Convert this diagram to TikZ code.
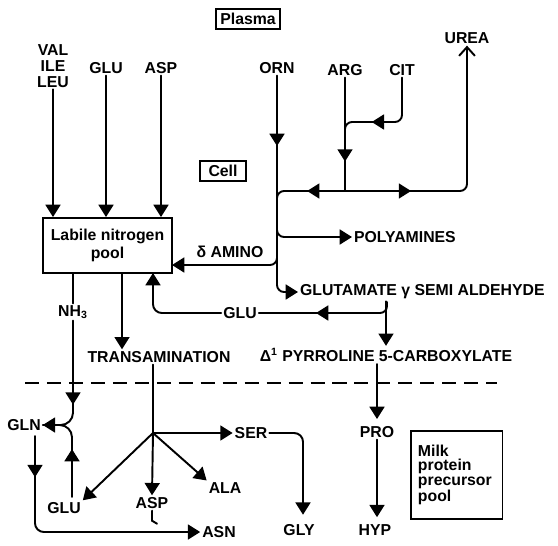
\documentclass[tikz,border=0pt]{standalone}
\usepackage{fontspec}
\setmainfont{Liberation Sans}
\usetikzlibrary{arrows.meta, decorations.markings}

\tikzset{
  tri/.tip={Triangle[length=7pt,width=8.5pt]},
  barb/.tip={Straight Barb[length=5pt,width=9pt,line width=1.1pt]},
  lbl/.style={font=\bfseries\fontsize{9}{9}\selectfont, inner sep=1pt},
  boxed/.style={lbl, draw, line width=1.1pt, inner sep=2.5pt},
  flow/.style={line width=1.1pt, line cap=round},
  midarr/.style={postaction={decorate},
    decoration={markings, mark=at position #1 with {\arrow{tri}}}},
}

\begin{document}
\begin{tikzpicture}[x=0.02cm, y=-0.02cm]
\useasboundingbox (0,0) rectangle (558,545);

% compartments
\node[boxed] (plasma) at (248,19) {Plasma};
\node[boxed, inner xsep=5pt] (cell) at (223,171) {Cell};
\draw[flow, dash pattern=on 8pt off 4.5pt, line cap=butt] (25,383) -- (497,383);

% plasma amino acids
\node[lbl, align=center, font=\bfseries\fontsize{9}{9}\selectfont] (val) at (53,66) {VAL\\ILE\\LEU};
\node[lbl] (glu1) at (106,68) {GLU};
\node[lbl] (asp1) at (161,68) {ASP};
\node[lbl] (orn) at (277,68) {ORN};
\node[lbl] (arg) at (345,70) {ARG};
\node[lbl] (cit) at (402,70) {CIT};
\node[lbl] (urea) at (467,38) {UREA};

% cell
\node[boxed, minimum width=2.58cm, minimum height=1.1cm, align=center]
  (pool) at (107.5,245.5) {Labile nitrogen\\[1pt]pool};
\node[lbl] (amino) at (230,252) {δ AMINO};
\node[lbl, anchor=west] (polyam) at (352,237) {POLYAMINES};
\node[lbl, anchor=west] (glutam) at (298,292) {GLUTAMATE γ SEMI ALDEHYDE};
\node[lbl] (gluM) at (240,313) {GLU};
\node[lbl] (nh3) at (73,312) {NH\textsubscript{3}};
\node[lbl] (transam) at (159,357) {TRANSAMINATION};
\node[lbl] (pyrrol) at (386,355) {Δ\textsuperscript{1} PYRROLINE 5-CARBOXYLATE};

% milk protein precursors
\node[lbl] (gln) at (24,425) {GLN};
\node[lbl] (gluL) at (64,508) {GLU};
\node[lbl] (aspL) at (152,503) {ASP};
\node[lbl] (ala) at (225,488) {ALA};
\node[lbl] (ser) at (251,433) {SER};
\node[lbl] (asn) at (219,532) {ASN};
\node[lbl] (gly) at (299,530) {GLY};
\node[lbl] (pro) at (377,432) {PRO};
\node[lbl] (hyp) at (375,530) {HYP};
\node[lbl, draw, line width=1.1pt, anchor=north west, align=left,
  font=\bfseries\fontsize{9}{8.3}\selectfont, text width=1.55cm, minimum height=1.76cm,
  inner xsep=4pt, inner ysep=5pt] (milk) at (410,430) {Milk\\protein\\precursor\\pool};

% junctions
\coordinate (jarg) at (345,191);
\coordinate (jtr) at (153,433);
\coordinate (ingluP) at (153,273);
\coordinate (inamino) at (172,265);
\coordinate (intr) at (122,273);
\coordinate (ingly) at (303,520);

% into the labile pool
\draw[flow, -tri] (val.south) -- (val.south |- pool.north);
\draw[flow, -tri] (glu1.south) -- (glu1.south |- pool.north);
\draw[flow, -tri] (asp1.south) -- (asp1.south |- pool.north);

% ornithine / arginine / citrulline
\draw[flow, rounded corners=4pt, midarr=0.3, -tri] (orn.south) |- (glutam.west);
\draw[flow, midarr=0.74] (arg.south) -- (jarg);
\draw[flow, rounded corners=4pt, midarr=0.68] (cit.south) |- (345,122) -- (345,132);
\draw[flow, rounded corners=4pt, midarr=0.25, -barb] (jarg) -| (urea.south);
\draw[flow, rounded corners=4pt, midarr=0.48] (jarg) -| (277,205);
\draw[flow, rounded corners=4pt, -tri] (277,222) |- (polyam.west);
\draw[flow, rounded corners=4pt, -tri] (277,250) |- (inamino);

% glutamate semialdehyde
\draw[flow, -tri] (glutam.south -| pyrrol.north) -- (pyrrol.north);
\draw[flow, rounded corners=4pt, midarr=0.58] (387,302) |- (gluM.east);
\draw[flow, rounded corners=5pt, -tri] (gluM.west) -| (ingluP);

% out of the labile pool
\draw[flow] (nh3.north |- pool.south) -- (nh3.north);
\draw[flow, -tri] (intr) -- (intr |- transam.north);
\draw[flow, rounded corners=7pt, midarr=0.65, -tri] (nh3.south) |- (gln.east);
\draw[flow, rounded corners=7pt, midarr=0.5] (72,497) |- (gln.east);
\draw[flow, rounded corners=5pt, midarr=0.16, -tri] (35,436) |- (asn.west);
\draw[flow] (aspL.south) -- ++(0,10) -- ++(5,3);

% transamination products
\draw[flow] (transam.south -| jtr) -- (jtr);
\draw[flow, -tri] (jtr) -- (ser.west);
\draw[flow, -tri] (jtr) -- (aspL.north);
\draw[flow, -tri] (jtr) -- (ala.north west);
\draw[flow, -tri] (jtr) -- (gluL.north east);
\draw[flow, rounded corners=5pt, -tri, shorten >=3pt] (ser.east) -| (ingly);

% proline
\draw[flow, -tri, shorten >=3pt] (pyrrol.south -| pro.north) -- (pro.north);
\draw[flow, -tri, shorten >=3pt] (pro.south) -- (pro.south |- hyp.north);
\end{tikzpicture}
\end{document}
